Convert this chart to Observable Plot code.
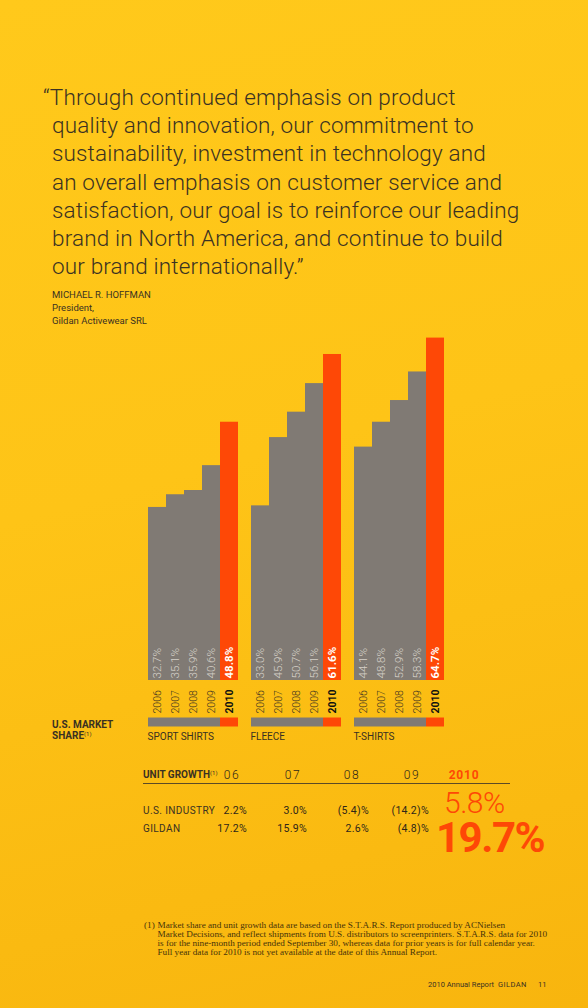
<!DOCTYPE html>
<html>
<head>
<meta charset="utf-8">
<script src="https://cdn.jsdelivr.net/npm/d3@7"></script>
<script src="https://cdn.jsdelivr.net/npm/@observablehq/plot@0.6"></script>
<style>
html, body { margin: 0; padding: 0; }
#page {
  position: relative; width: 588px; height: 1008px; overflow: hidden;
  background: linear-gradient(165deg, #ffc91b 0%, #fec417 45%, #f8b50e 100%);
  font-family: Roboto, "DejaVu Sans", sans-serif; color: #3a3122;
}
.abs { position: absolute; white-space: nowrap; line-height: 1; }
.quote { font-size: 22.5px; font-weight: 300; color: #3b3222; letter-spacing: 0.15px; }
.small { font-size: 9.5px; color: #3a3122; }
.bold { font-weight: 700; }
sup { font-size: 0.6em; vertical-align: 0.5em; font-weight: 400; }
.hdr { font-size: 12px; font-weight: 300; letter-spacing: 1.5px; color: #2e2619; transform: translateX(-50%); }
.val { font-size: 10.5px; color: #2e2619; letter-spacing: 0.3px; transform: translateX(-100%); }
.note { font-family: "Liberation Serif", serif; font-size: 9.2px; color: #47330a; }
#chart { position: absolute; left: 0; top: 320px; }
</style>
</head>
<body>
<div id="page"></div>
<script>
// ---------- data ----------
const quoteLines = [
  "“Through continued emphasis on product",
  "quality and innovation, our commitment to",
  "sustainability, investment in technology and",
  "an overall emphasis on customer service and",
  "satisfaction, our goal is to reinforce our leading",
  "brand in North America, and continue to build",
  "our brand internationally.”"
];
const attribution = ["MICHAEL R. HOFFMAN", "President,", "Gildan Activewear SRL"];
const categories = ["SPORT SHIRTS", "FLEECE", "T-SHIRTS"];
const years = ["2006", "2007", "2008", "2009", "2010"];
const sportShirts = [32.7, 35.1, 35.9, 40.6, 48.8];
const fleece = [33.0, 45.9, 50.7, 56.1, 61.6];
const tShirts = [44.1, 48.8, 52.9, 58.3, 64.7];
const growthYears = ["06", "07", "08", "09", "2010"];
const usIndustry = [2.2, 3.0, -5.4, -14.2, 5.8];
const gildan = [17.2, 15.9, 2.6, -4.8, 19.7];
const footnote = [
  "Market share and unit growth data are based on the S.T.A.R.S. Report produced by ACNielsen",
  "Market Decisions, and reflect shipments from U.S. distributors to screenprinters. S.T.A.R.S. data for 2010",
  "is for the nine-month period ended September 30, whereas data for prior years is for full calendar year.",
  "Full year data for 2010 is not yet available at the date of this Annual Report."
];

const GRAY = "#807a74", ORANGE = "#fe4806", INK = "#3a3122";
const page = document.getElementById("page");
function add(html, cls, left, top, extra = "") {
  const d = document.createElement("div");
  d.className = "abs " + cls;
  d.style.cssText = `left:${left}px;top:${top}px;${extra}`;
  d.innerHTML = html;
  page.appendChild(d);
  return d;
}

// ---------- quote ----------
quoteLines.forEach((t, i) => {
  const left = i === 0 ? 43 : 52;
  add(t, "quote", left, 83 + i * 28.2, "line-height:28px");
});
attribution.forEach((t, i) => add(t, "small", 52, 290 + i * 13.2));

// ---------- bar chart ----------
const shares = [sportShirts, fleece, tShirts];
const last = years[years.length - 1];
const data = categories.flatMap((c, i) => years.map((y, j) => ({
  category: c, year: y, value: shares[i][j], current: y === last
})));

const chart = Plot.plot({
  width: 588, height: 420,
  marginTop: 16, marginBottom: 60, marginLeft: 146, marginRight: 143,
  fx: {domain: categories, paddingInner: 0.107, paddingOuter: 0, axis: null},
  x: {domain: years, padding: 0, axis: null},
  y: {domain: [0, 65], axis: null},
  style: {background: "transparent", fontFamily: "Roboto, sans-serif", overflow: "visible"},
  marks: [
    Plot.barY(data, {fx: "category", x: "year", y: "value", fill: d => d.current ? ORANGE : GRAY}),
    Plot.text(data, {filter: d => !d.current, fx: "category", x: "year", y: 0,
      text: d => d.value.toFixed(1) + "%", rotate: -90, textAnchor: "start", lineAnchor: "middle",
      dy: -2, fill: "#d6d1c9", fontSize: 11.5, fontWeight: 300, letterSpacing: 1.6}),
    Plot.text(data, {filter: d => d.current, fx: "category", x: "year", y: 0,
      text: d => d.value.toFixed(1) + "%", rotate: -90, textAnchor: "start", lineAnchor: "middle",
      dy: -2, fill: "#ffffff", fontSize: 11.5, fontWeight: 700, letterSpacing: 1}),
    Plot.text(data, {filter: d => !d.current, fx: "category", x: "year", y: 0,
      text: "year", rotate: -90, textAnchor: "start", lineAnchor: "middle",
      dy: 33, fill: INK, fontSize: 10.5, fontWeight: 300, letterSpacing: 0.5}),
    Plot.text(data, {filter: d => d.current, fx: "category", x: "year", y: 0,
      text: "year", rotate: -90, textAnchor: "start", lineAnchor: "middle",
      dy: 33, fill: "#111", fontSize: 10.5, fontWeight: 700, letterSpacing: 0.3}),
    Plot.tickY(data, {fx: "category", x: "year", y: 0, dy: 41.5, strokeWidth: 9,
      stroke: d => d.current ? ORANGE : GRAY}),
    Plot.text(categories, {fx: d => d, text: d => d, frameAnchor: "bottom-left",
      textAnchor: "start", lineAnchor: "middle", dy: 56, fill: INK, fontSize: 10, letterSpacing: 0.3})
  ]
});
chart.id = "chart";
page.appendChild(chart);

add("U.S. MARKET", "small bold", 52, 720, "font-size:10px");
add("SHARE<sup>(1)</sup>", "small bold", 52, 731, "font-size:10px");

// ---------- unit growth table ----------
const colCenters = [232, 293, 352, 412, 464];
const colRight = [247, 307, 369, 429];
add("UNIT GROWTH<sup>(1)</sup>", "small bold", 143, 770, "font-size:10px");
growthYears.forEach((g, i) => {
  const isLast = i === growthYears.length - 1;
  add(g, "hdr", colCenters[i], 769,
    isLast ? `color:${ORANGE};font-weight:700;font-size:12px;letter-spacing:0.8px` : "");
});
const rule = document.createElement("div");
rule.style.cssText = "position:absolute;left:143px;top:783px;width:367px;height:1px;background:#5b4a26";
page.appendChild(rule);

const fmt = v => v < 0 ? `(${Math.abs(v).toFixed(1)})%` : v.toFixed(1) + "%";
[["U.S. INDUSTRY", usIndustry, 806], ["GILDAN", gildan, 824]].forEach(([label, vals, top]) => {
  add(label, "small", 143, top, "font-size:10px;letter-spacing:0.4px");
  vals.slice(0, 4).forEach((v, i) => add(fmt(v), "val", colRight[i], top));
});
add(fmt(usIndustry[4]), "", 444, 792,
  `font-size:30px;line-height:0.72;font-weight:300;color:${ORANGE};letter-spacing:-0.5px`);
add(fmt(gildan[4]), "", 436, 823,
  `font-size:42px;line-height:0.72;font-weight:700;color:${ORANGE};letter-spacing:-1.5px`);

// ---------- footnote ----------
add("(1)", "note", 144, 921);
footnote.forEach((t, i) => add(t, "note", 157.5, 921 + i * 9));
add("2010 Annual Report", "", 428, 981, "font-size:7.5px;color:#3a3122");
add("GILDAN", "", 498, 981, "font-size:7.5px;color:#3a3122;letter-spacing:0.4px");
add("11", "", 538, 981, "font-size:7.5px;color:#3a3122");
</script>
</body>
</html>
